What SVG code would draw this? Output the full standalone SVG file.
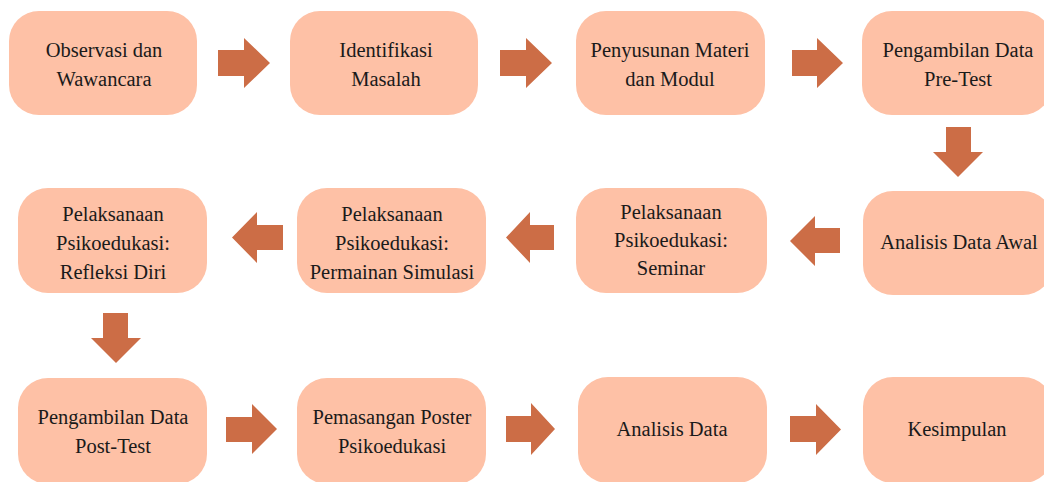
<svg xmlns="http://www.w3.org/2000/svg" width="1044" height="482" viewBox="0 0 1044 482">
<style>
.box{fill:#FEC1A6}
.arr{fill:#CC6D46}
text{font-family:"Liberation Serif","Times New Roman",serif;font-size:20.5px;fill:#1a1a1a;text-anchor:middle}
</style>
<rect width="1044" height="482" fill="#ffffff"/>
<g id="n1"><rect class="box" x="9" y="11" width="188" height="104" rx="30"/><text x="104" y="57">Observasi dan</text><text x="104" y="86">Wawancara</text></g>
<g id="n2"><rect class="box" x="290" y="11" width="188" height="104" rx="30"/><text x="386" y="57">Identifikasi</text><text x="386" y="86">Masalah</text></g>
<g id="n3"><rect class="box" x="576" y="11" width="189" height="104" rx="30"/><text x="670" y="57">Penyusunan Materi</text><text x="670" y="86">dan Modul</text></g>
<g id="n4"><rect class="box" x="862" y="11" width="190" height="104" rx="30"/><text x="958" y="57">Pengambilan Data</text><text x="958" y="86">Pre-Test</text></g>
<g id="n5"><rect class="box" x="863" y="191" width="190" height="104" rx="30"/><text x="959" y="249">Analisis Data Awal</text></g>
<g id="n6"><rect class="box" x="576" y="188" width="191" height="105" rx="30"/><text x="671" y="219">Pelaksanaan</text><text x="671" y="247">Psikoedukasi:</text><text x="671" y="275">Seminar</text></g>
<g id="n7"><rect class="box" x="297" y="188" width="189" height="105" rx="30"/><text x="392" y="221">Pelaksanaan</text><text x="392" y="250">Psikoedukasi:</text><text x="392" y="279">Permainan Simulasi</text></g>
<g id="n8"><rect class="box" x="18" y="188" width="189" height="105" rx="30"/><text x="113" y="221">Pelaksanaan</text><text x="113" y="250">Psikoedukasi:</text><text x="113" y="279">Refleksi Diri</text></g>
<g id="n9"><rect class="box" x="18" y="378" width="189" height="106" rx="30"/><text x="113" y="424">Pengambilan Data</text><text x="113" y="453">Post-Test</text></g>
<g id="n10"><rect class="box" x="297" y="378" width="189" height="106" rx="30"/><text x="392" y="424">Pemasangan Poster</text><text x="392" y="453">Psikoedukasi</text></g>
<g id="n11"><rect class="box" x="578" y="377" width="189" height="106" rx="30"/><text x="672" y="436">Analisis Data</text></g>
<g id="n12"><rect class="box" x="863" y="377" width="190" height="106" rx="30"/><text x="957" y="436">Kesimpulan</text></g>
<g id="connectors">
<polygon class="arr" points="218,50 244,50 244,38 270,63 244,88 244,76 218,76"/>
<polygon class="arr" points="500,50 526,50 526,38 552,63 526,88 526,76 500,76"/>
<polygon class="arr" points="792,50 817,50 817,38 843,63 817,88 817,76 792,76"/>
<polygon class="arr" points="946,127 971,127 971,152 983,152 958,177 933,152 946,152"/>
<polygon class="arr" points="840,228 815,228 815,216 790,241 815,266 815,253 840,253"/>
<polygon class="arr" points="554,225 530,225 530,212 506,237.5 530,263 530,250 554,250"/>
<polygon class="arr" points="283,225 257,225 257,212 232,237.5 257,263 257,250 283,250"/>
<polygon class="arr" points="103,313 128,313 128,338 141,338 116,363 91,338 103,338"/>
<polygon class="arr" points="226,417 252,417 252,404 277,429 252,454 252,442 226,442"/>
<polygon class="arr" points="506,416 531,416 531,403 555,429 531,455 531,442 506,442"/>
<polygon class="arr" points="790,416 816,416 816,404 841,429.5 816,455 816,442 790,442"/>
</g>
</svg>
